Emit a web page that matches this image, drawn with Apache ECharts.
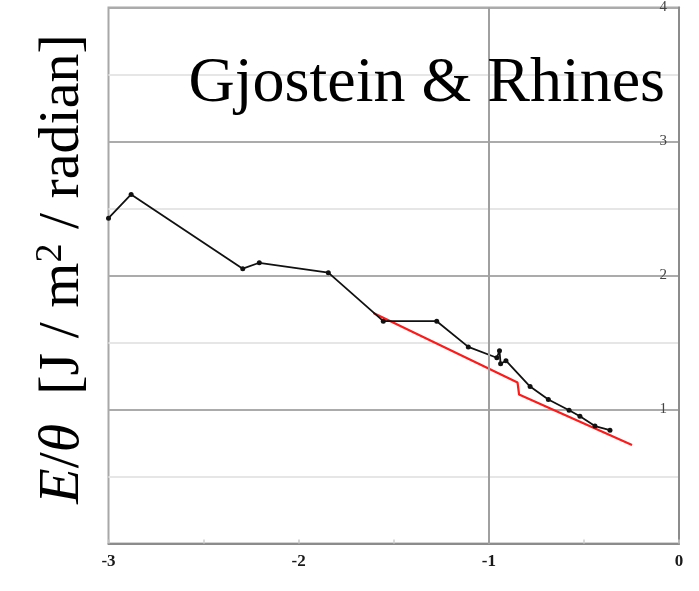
<!DOCTYPE html>
<html>
<head>
<meta charset="utf-8">
<script src="https://cdn.jsdelivr.net/npm/echarts@6/dist/echarts.min.js"></script>
<style>
  html, body { margin: 0; padding: 0; background: #fff; }
  #chart { width: 699px; height: 591px; }
</style>
</head>
<body>
<div id="chart"></div>
<script>
// Measured energy per unit angle (black) and fitted trend (red)
const measuredX = [-3.0, -2.881, -2.294, -2.207, -1.844, -1.555, -1.274, -1.108, -0.958, -0.944, -0.938, -0.910, -0.783, -0.687, -0.578, -0.521, -0.442, -0.363];
const measuredY = [2.428, 2.605, 2.051, 2.095, 2.021, 1.659, 1.659, 1.467, 1.386, 1.438, 1.341, 1.364, 1.171, 1.075, 0.994, 0.950, 0.876, 0.846];
const fitX = [-1.607, -0.849, -0.841, -0.247];
const fitY = [1.721, 1.201, 1.112, 0.735];

const xTickValues = [-3, -2, -1, 0];
const yTickLabels = ['1', '2', '3', '4'];
const titleText = 'Gjostein & Rhines';

const pairs = (xs, ys) => xs.map((x, i) => [x, ys[i]]);

const chart = echarts.init(document.getElementById('chart'), null, { renderer: 'canvas' });

const serif = '"Liberation Serif", "Times New Roman", serif';

chart.setOption({
  animation: false,
  backgroundColor: '#ffffff',
  grid: {
    left: 108.5, right: 20, top: 4.5, bottom: 47.5,
    show: true, borderColor: '#a8a8a8', borderWidth: 2, backgroundColor: 'transparent'
  },
  xAxis: {
    type: 'value', min: -3, max: 0, interval: 1,
    axisLine: { show: true, onZero: false, lineStyle: { color: '#8c8c8c', width: 2 } },
    axisTick: { show: true, inside: true, length: 4, lineStyle: { color: '#c8c8c8', width: 1.5 } },
    minorTick: { show: true, splitNumber: 2, length: 4, lineStyle: { color: '#d0d0d0', width: 1.5 } },
    splitLine: { show: false },
    axisLabel: {
      margin: 10, color: '#1a1a1a', fontFamily: serif, fontWeight: 'bold', fontSize: 17,
      formatter: v => xTickValues.includes(v) ? String(v) : ''
    }
  },
  yAxis: {
    type: 'value', position: 'right', min: 0, max: 4, interval: 1,
    axisLine: { show: true, lineStyle: { color: '#8c8c8c', width: 2 } },
    axisTick: { show: false },
    splitLine: { show: true, lineStyle: { color: '#ababab', width: 2 } },
    minorTick: { show: false, splitNumber: 2 },
    minorSplitLine: { show: true, lineStyle: { color: '#e6e6e6', width: 2 } },
    axisLabel: {
      inside: true, margin: 12, color: '#444', fontFamily: serif, fontSize: 15,
      showMinLabel: false,
      formatter: v => yTickLabels[Math.round(v) - 1] || ''
    }
  },
  series: [
    {
      // vertical reference line at -1
      type: 'line', data: [], z: 1, silent: true,
      markLine: {
        silent: true, symbol: 'none', label: { show: false },
        lineStyle: { color: '#a0a0a0', width: 2, type: 'solid' },
        data: [{ xAxis: -1 }]
      }
    },
    {
      name: 'fit', type: 'line', z: 3,
      data: pairs(fitX, fitY),
      showSymbol: false,
      lineStyle: { color: '#ff1a1a', width: 2.2 }
    },
    {
      name: 'measured', type: 'line', z: 4,
      data: pairs(measuredX, measuredY),
      symbol: 'circle', symbolSize: 5,
      itemStyle: { color: '#111' },
      lineStyle: { color: '#111', width: 1.8 }
    }
  ],
  graphic: [
    {
      type: 'text', right: 34, top: 52, z: 10,
      style: { text: titleText, font: '64px ' + serif, fill: '#000' }
    },
    {
      type: 'text', x: 63, y: 269, rotation: Math.PI / 2, z: 10,
      style: {
        text: '{i|E}/{i|θ}  [J / m{s|2} / radian]',
        font: '58px ' + serif, fill: '#000',
        align: 'center', verticalAlign: 'middle',
        rich: {
          i: { fontStyle: 'italic', fontSize: 58, fontFamily: serif },
          s: { fontSize: 38, fontFamily: serif, verticalAlign: 'top', padding: [0, 0, 24, 0] }
        }
      }
    }
  ]
});
</script>
</body>
</html>
